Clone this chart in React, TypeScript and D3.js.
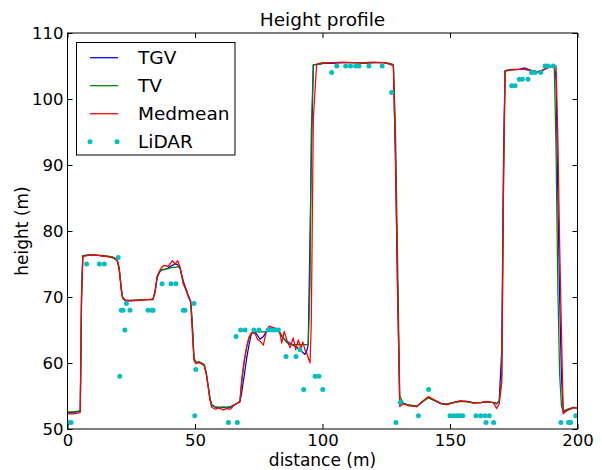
import React, { useEffect, useRef } from 'react';
import * as d3 from 'd3';

// distance along the profile (m), shared by the three filtered profiles
const distance = [
  0, 2, 4, 5, 5.5, 6, 8, 10, 12, 14, 16, 18, 19.5, 20.3, 21.1, 21.6, 22.7,
  25, 28, 31, 33.5, 34.3, 35.2, 36.3, 37.2, 38.2, 39.5, 40.3, 41.1, 42.2, 43.2, 44.1, 45.4, 46.5, 47.4, 48.3,
  48.9, 49.6, 50.4, 51.5, 52.5, 53.6, 54.4, 55.2, 55.9, 56.6, 58, 59.5, 61, 62.5, 64, 65, 66.5, 67.6,
  68.3, 69.2, 70.3, 71.2, 72.2, 73.5, 74.5, 75.5, 76.8, 78, 79.1, 80.5, 82, 83.3, 84, 85, 86, 87.3, 88.5, 89.5, 90.5, 91.5, 92.3, 93.1, 93.8, 94.4, 95.1, 95.6,
  96.4, 97.7, 100.3, 104, 108, 112, 116, 120, 124, 126.5, 127.8, 128.6, 129.4, 130.3, 131.7,
  134, 137, 139.5, 141.5, 144, 146.5, 148.7, 151, 153.9, 156.5, 159.1, 162, 164.4, 167, 168.3, 169.3,
  170.3, 171, 171.6, 174, 177, 179.4, 182, 184, 186, 188.5, 190.9, 191.6, 192.3, 193, 193.7, 194.4, 196, 198.4, 200,
];

const tgv = [
  52.5, 52.5, 52.6, 52.7, 70, 76.2, 76.4, 76.4, 76.3, 76.2, 76.1, 76.0, 75.6, 74.2, 71.2, 69.9, 69.4,
  69.4, 69.5, 69.6, 69.6, 70.6, 73.0, 73.9, 74.1, 74.2, 74.4, 74.6, 74.8, 75.0, 74.9, 74.5, 72.4, 71.2, 70.2, 69.4,
  66, 60.6, 60.0, 60.1, 60.0, 59.7, 58.5, 56.4, 54.5, 53.6, 53.3, 53.2, 53.3, 53.2, 53.3, 53.6, 53.9, 54.1,
  55.5, 57.8, 60.8, 62.8, 64.6, 64.7, 64.2, 63.6, 64.0, 64.8, 65.3, 65.3, 65.1, 64.6, 64.1, 63.6, 63.3, 63.0, 62.7, 62.5, 62.2, 61.9, 61.6, 61.3, 61.8, 62.8, 79, 91,
  105.2, 105.2, 105.4, 105.4, 105.5, 105.5, 105.4, 105.5, 105.5, 105.3, 105.0, 91, 72, 53.7, 53.9,
  53.6, 53.4, 54.2, 54.8, 54.3, 53.8, 53.7, 54.0, 54.2, 54.2, 54.0, 54.0, 54.1, 54.0, 53.8, 54.3,
  62, 92, 104.3, 104.4, 104.5, 104.7, 104.3, 104.1, 104.3, 104.8, 105.1, 103, 85, 70, 58, 52.6, 52.9, 53.2, 53.2,
];

const tv = [
  52.6, 52.6, 52.7, 52.8, 71, 76.3, 76.3, 76.4, 76.3, 76.3, 76.2, 76.0, 75.7, 74.4, 71.4, 70.0, 69.5,
  69.5, 69.6, 69.6, 69.7, 70.8, 73.1, 73.9, 74.2, 74.2, 74.3, 74.4, 74.5, 74.5, 74.6, 74.4, 72.0, 71.0, 70.0, 69.3,
  66.5, 60.8, 60.1, 60.2, 60.0, 59.8, 58.6, 56.5, 54.6, 53.7, 53.3, 53.3, 53.3, 53.3, 53.4, 53.6, 53.9, 54.2,
  57, 59.8, 62.5, 63.8, 64.6, 64.7, 64.7, 64.7, 64.7, 64.8, 65.1, 65.2, 65.1, 64.6, 64.2, 63.6, 63.1, 62.8, 62.8, 62.8, 62.8, 62.8, 62.8, 62.8, 62.8, 62.8, 72, 95,
  105.2, 105.2, 105.4, 105.5, 105.5, 105.5, 105.4, 105.5, 105.5, 105.4, 105.2, 96, 77, 55, 53.9,
  53.6, 53.5, 54.2, 54.7, 54.3, 53.9, 53.8, 54.0, 54.2, 54.1, 54.0, 54.0, 54.1, 54.0, 53.9, 54.1,
  58, 88, 104.3, 104.5, 104.5, 104.5, 104.3, 104.1, 104.3, 104.8, 105.0, 92, 71, 58.3, 53.5, 52.7, 53.0, 53.3, 53.2,
];

const medmean = [
  52.3, 52.3, 52.4, 52.5, 69, 76.1, 76.3, 76.4, 76.3, 76.2, 76.1, 75.9, 75.5, 74.0, 71.0, 69.8, 69.5,
  69.5, 69.5, 69.6, 69.6, 70.9, 73.2, 74.1, 74.6, 74.8, 74.6, 75.1, 75.5, 75.0, 75.5, 74.6, 72.1, 71.1, 70.1, 69.2,
  65, 60.4, 59.9, 60.1, 59.9, 59.6, 58.3, 56.2, 54.3, 53.3, 53.0, 53.2, 52.9, 53.1, 53.0, 53.5, 53.9, 54.1,
  57.5, 60.2, 62.5, 64.0, 64.5, 64.5, 63.6, 63.3, 62.7, 64.8, 65.6, 65.4, 65.2, 64.5, 63.0, 64.8, 63.5, 62.3, 63.8, 62.0, 63.5, 62.2, 63.2, 62.0, 61.5, 60.8, 60.0, 66,
  97, 105.3, 105.5, 105.5, 105.6, 105.5, 105.5, 105.6, 105.5, 105.3, 105.0, 92, 72, 53.4, 53.8,
  53.5, 53.4, 54.3, 54.9, 54.4, 53.9, 53.7, 53.9, 54.3, 54.2, 53.9, 54.0, 54.2, 54.0, 53.1, 53.8,
  57, 87, 104.2, 104.4, 104.5, 104.5, 104.3, 104.0, 104.3, 104.8, 105.1, 105, 94, 78, 65, 52.3, 52.8, 53.2, 53.2,
];

// LiDAR samples
const lidarX = [
  0.2, 1.4, 7.5, 12.5, 14.4, 19.9, 20.5, 21.1, 21.8, 22.5, 23.1, 24.5, 31.6, 33.2, 33.6, 37.1, 40.6, 42.5,
  45.4, 46.1, 49.6, 50.3, 49.9, 63.1, 66.6, 66.1, 67.9, 69.6, 73.1, 75.1, 78.7, 80.1, 81.4, 82.7, 85.7,
  89.6, 91.2, 92.6, 97.1, 98.6, 100.1, 103.6, 105.6, 109.1, 111, 113, 114.3, 118.2, 123.4, 127.1, 128.8,
  130.5, 137.6, 141.6, 150, 151.3, 152.6, 153.9, 155, 160.2, 162, 163.7, 165.4, 164.1, 167.1, 174.2, 175.5,
  177.2, 178.4, 180.6, 182, 183.3, 185.6, 187.3, 188.5, 190.5, 193.5, 196.5, 197.3, 199.3,
];
const lidarY = [
  51, 51, 75, 75, 75, 76, 58, 68, 68, 65, 69, 68, 68, 68, 68, 72, 72, 72,
  68, 68, 69, 59, 52, 51, 51, 64, 65, 65, 65, 65, 65, 65, 65, 65, 61,
  61, 62, 56, 58, 58, 56, 104, 105, 105, 105, 105, 105, 105, 105, 101, 51,
  54, 52, 56, 52, 52, 52, 52, 52, 52, 52, 52, 52, 51, 51, 102, 102,
  103, 103, 103, 104, 104, 104, 105, 105, 105, 51, 51, 51, 52,
];

const xTicks = [0, 50, 100, 150, 200];
const yTicks = [50, 60, 70, 80, 90, 100, 110];

const seriesNames = ['TGV', 'TV', 'Medmean', 'LiDAR'];
const seriesColors = ['#0000ff', '#008000', '#ff0000', '#00bfbf'];

const W = 602;
const H = 470;

const App = () => {
  const ref = useRef(null);

  useEffect(() => {
    document.body.style.margin = '0';
    const margin = { top: 33, right: 24.5, bottom: 41, left: 67.5 };
    const width = W - margin.left - margin.right;
    const height = H - margin.top - margin.bottom;
    const font = 'DejaVu Sans, sans-serif';

    const svg = d3.select(ref.current);
    svg.selectAll('*').remove();
    svg.append('rect').attr('width', W).attr('height', H).attr('fill', '#fff');

    const g = svg.append('g').attr('transform', `translate(${margin.left},${margin.top})`);

    const x = d3.scaleLinear().domain([0, 200]).range([0, width]);
    const y = d3.scaleLinear().domain([50, 110]).range([height, 0]);

    const clip = svg.append('defs').append('clipPath').attr('id', 'plot-clip');
    clip.append('rect').attr('width', width).attr('height', height);

    const plot = g.append('g').attr('clip-path', 'url(#plot-clip)');
    const line = d3.line().x((d) => x(d[0])).y((d) => y(d[1]));

    [tgv, tv, medmean].forEach((vals, i) => {
      plot
        .append('path')
        .datum(distance.map((dd, j) => [dd, vals[j]]))
        .attr('d', line)
        .attr('fill', 'none')
        .attr('stroke', seriesColors[i])
        .attr('stroke-width', 1.25)
        .attr('stroke-linejoin', 'round');
    });

    plot
      .selectAll('circle.lidar')
      .data(lidarX.map((d, i) => [d, lidarY[i]]))
      .enter()
      .append('circle')
      .attr('class', 'lidar')
      .attr('cx', (d) => x(d[0]))
      .attr('cy', (d) => y(d[1]))
      .attr('r', 2.5)
      .attr('fill', seriesColors[3]);

    // ticks point inward on all four sides
    const styleAxis = (sel, hideText) => {
      sel.select('.domain').remove();
      sel.selectAll('.tick line').attr('stroke', '#000').attr('stroke-width', 1);
      sel.selectAll('text').attr('font-family', font).attr('font-size', 16.5).attr('fill', '#000');
      if (hideText) sel.selectAll('text').remove();
    };

    g.append('g')
      .attr('transform', `translate(0,${height})`)
      .call(d3.axisBottom(x).tickValues(xTicks).tickSize(-5).tickPadding(5))
      .call((s) => styleAxis(s, false));
    g.append('g')
      .call(d3.axisTop(x).tickValues(xTicks).tickSize(-5))
      .call((s) => styleAxis(s, true));
    g.append('g')
      .call(d3.axisLeft(y).tickValues(yTicks).tickSize(-5).tickPadding(4))
      .call((s) => styleAxis(s, false));
    g.append('g')
      .attr('transform', `translate(${width},0)`)
      .call(d3.axisRight(y).tickValues(yTicks).tickSize(-5))
      .call((s) => styleAxis(s, true));

    g.append('rect')
      .attr('width', width)
      .attr('height', height)
      .attr('fill', 'none')
      .attr('stroke', '#000')
      .attr('stroke-width', 1);

    svg.append('text')
      .attr('x', margin.left + width / 2)
      .attr('y', 25.5)
      .attr('text-anchor', 'middle')
      .attr('font-family', font)
      .attr('font-size', 18.5)
      .text('Height profile');

    svg.append('text')
      .attr('x', margin.left + width / 2)
      .attr('y', 466)
      .attr('text-anchor', 'middle')
      .attr('font-family', font)
      .attr('font-size', 17)
      .text('distance (m)');

    svg.append('text')
      .attr('transform', `translate(28,${margin.top + height / 2}) rotate(-90)`)
      .attr('text-anchor', 'middle')
      .attr('font-family', font)
      .attr('font-size', 17)
      .text('height (m)');

    // legend
    const legend = svg.append('g');
    legend.append('rect')
      .attr('x', 76.5)
      .attr('y', 42.5)
      .attr('width', 158.5)
      .attr('height', 112.5)
      .attr('fill', '#fff')
      .attr('stroke', '#000')
      .attr('stroke-width', 1);

    seriesNames.forEach((name, i) => {
      const ly = 57.7 + i * 28;
      if (i < 3) {
        legend.append('line')
          .attr('x1', 90).attr('x2', 118)
          .attr('y1', ly).attr('y2', ly)
          .attr('stroke', seriesColors[i])
          .attr('stroke-width', 1.25);
      } else {
        [90, 117].forEach((cx) => {
          legend.append('circle').attr('cx', cx).attr('cy', ly).attr('r', 2.5).attr('fill', seriesColors[i]);
        });
      }
      legend.append('text')
        .attr('x', 138)
        .attr('y', ly)
        .attr('dy', '0.36em')
        .attr('font-family', font)
        .attr('font-size', 18.5)
        .text(name);
    });
  }, []);

  return <svg ref={ref} width={W} height={H} style={{ display: 'block' }}></svg>;
};

export default App;
